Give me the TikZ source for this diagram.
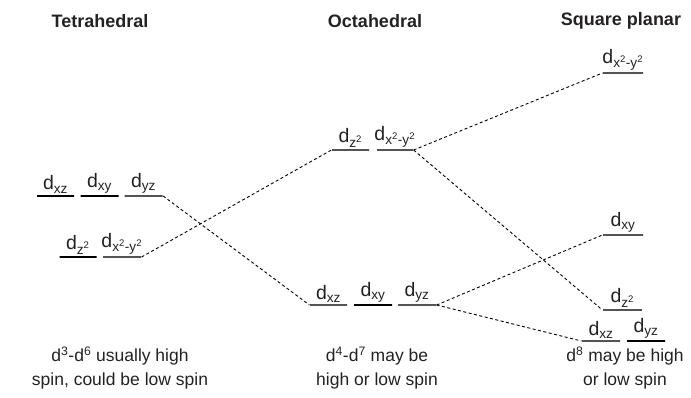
\documentclass[tikz,border=0pt]{standalone}
\usepackage{fontspec}
\setmainfont{Liberation Sans}
\usetikzlibrary{positioning}
\definecolor{inkgray}{rgb}{0.14,0.13,0.13}
\definecolor{thingray}{rgb}{0.33,0.33,0.33}

\begin{document}
\begin{tikzpicture}[x=1pt, y=-1pt,
    level/.style={draw=thingray, line width=1.2pt, minimum height=0pt, inner sep=0pt, minimum width=#1},
    strong/.style={draw=black, line width=2.5pt},
    orb/.style={above=0.5pt, text=inkgray, font=\fontsize{19.5}{21}\selectfont, inner sep=1pt},
    title/.style={text=inkgray, font=\fontsize{18}{20}\selectfont\bfseries},
    note/.style={text=inkgray, font=\fontsize{17.5}{24}\selectfont, align=center},
    link/.style={dashed, dash pattern=on 3pt off 2.5pt, line width=0.9pt, black}]
    \useasboundingbox (0,0) rectangle (691,398);

    % Titles
    \node[title] (ttet) at (100,21) {Tetrahedral};
    \node[title] (toct) at (375,21) {Octahedral};
    \node[title] (tsq) at (621,21) {Square planar};

    % Tetrahedral levels
    \node[level=37pt, strong, label={[orb]above:d\textsubscript{xz}}] (Txz) at (55.5,196) {};
    \node[level=38pt, strong, label={[orb]above:d\textsubscript{xy}}] (Txy) at (99.5,196) {};
    \node[level=38pt, label={[orb]above:d\textsubscript{yz}}] (Tyz) at (143.5,196) {};
    \node[level=37pt, strong, label={[orb]above:d\textsubscript{z\textsuperscript{2}}}] (Tz2) at (78,257) {};
    \node[level=38pt, label={[orb]above:d\textsubscript{x\textsuperscript{2}-y\textsuperscript{2}}}] (Tx2y2) at (122,257) {};

    % Octahedral levels
    \node[level=37pt, label={[orb]above:d\textsubscript{z\textsuperscript{2}}}] (Oz2) at (350.5,150) {};
    \node[level=36pt, label={[orb]above:d\textsubscript{x\textsuperscript{2}-y\textsuperscript{2}}}] (Ox2y2) at (395,150) {};
    \node[level=37pt, label={[orb]above:d\textsubscript{xz}}] (Oxz) at (328.5,305) {};
    \node[level=38pt, strong, label={[orb]above:d\textsubscript{xy}}] (Oxy) at (373,305) {};
    \node[level=38pt, label={[orb]above:d\textsubscript{yz}}] (Oyz) at (417,305) {};

    % Square planar levels
    \node[level=40pt, label={[orb]above:d\textsubscript{x\textsuperscript{2}-y\textsuperscript{2}}}] (Sx2y2) at (623,73) {};
    \node[level=40pt, label={[orb]above:d\textsubscript{xy}}] (Sxy) at (623,235) {};
    \node[level=39pt, label={[orb]above:d\textsubscript{z\textsuperscript{2}}}] (Sz2) at (622.5,310) {};
    \node[level=38pt, label={[orb]above:d\textsubscript{xz}}] (Sxz) at (601,341) {};
    \node[level=38pt, strong, label={[orb]above:d\textsubscript{yz}}] (Syz) at (646,341) {};

    % Correlation lines
    \draw[link] (Tyz.east) -- (Oxz.west);
    \draw[link] (Tx2y2.east) -- (Oz2.west);
    \draw[link] (Ox2y2.east) -- (Sx2y2.west);
    \draw[link] (Ox2y2.east) -- (Sz2.west);
    \draw[link] (Oyz.east) -- (Sxy.west);
    \draw[link] (Oyz.east) -- (Sxz.west);

    % Spin notes
    \node[note] (ntet) at (120,368) {d\textsuperscript{3}-d\textsuperscript{6} usually high\\spin, could be low spin};
    \node[note] (noct) at (377,368) {d\textsuperscript{4}-d\textsuperscript{7} may be\\high or low spin};
    \node[note] (nsq) at (625,368) {d\textsuperscript{8} may be high\\or low spin};
\end{tikzpicture}
\end{document}
